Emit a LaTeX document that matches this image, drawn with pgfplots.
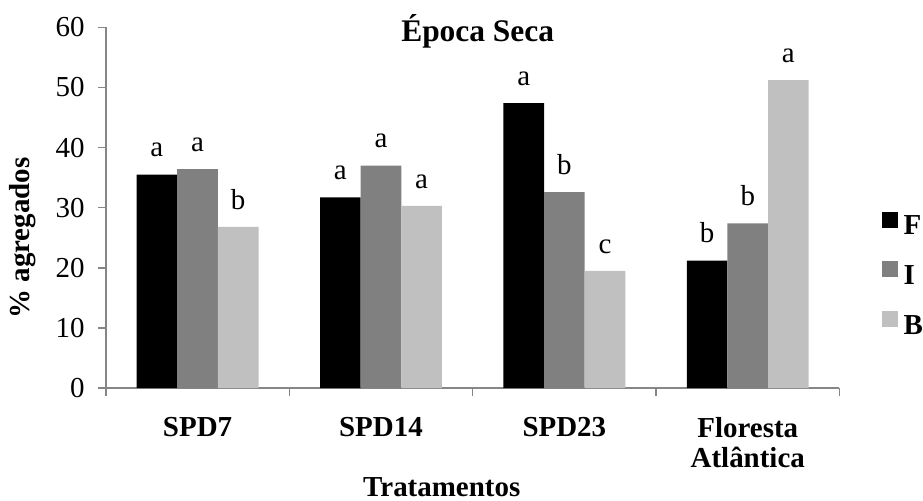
\documentclass[border=0pt]{standalone}
\usepackage{fontspec}
\setmainfont{Liberation Serif}
\usepackage{pgfplots}
\usepackage{pgfplotstable}
\pgfplotsset{compat=1.18}
\definecolor{cF}{RGB}{0,0,0}
\definecolor{cI}{RGB}{128,128,128}
\definecolor{cB}{RGB}{192,192,192}
\definecolor{axgray}{RGB}{134,134,134}
\newcommand\fs{\fontsize{14.5}{15}\selectfont}

\pgfplotstableread{
x F I B lF lI lB
0 35.5 36.4 26.8 a a b
1 31.7 37.0 30.3 a a a
2 47.4 32.6 19.5 a b c
3 21.2 27.4 51.2 b b a
}\data

\begin{document}
\fs
\begin{tikzpicture}
\begin{axis}[
  scale only axis, width=367.35pt, height=180.7pt,
  xmin=-0.5, xmax=3.5, ymin=0, ymax=60,
  ybar=0pt, bar width=20.35pt,
  axis x line*=bottom, axis y line*=left,
  axis line style={draw=axgray, line width=0.7pt, -},
  tick style={draw=axgray, line width=0.7pt},
  tick align=outside, major tick length=4pt,
  ytick={0,10,...,60},
  /pgf/number format/assume math mode=true,
  yticklabel style={anchor=east, inner sep=0pt, xshift=-6.5pt, font=\fs},
  xtick={-0.5,0.5,1.5,2.5,3.5},
  xticklabels={},
  extra x ticks={0,1,2,3},
  extra x tick labels={SPD7,SPD14,SPD23,{Floresta\\Atlântica}},
  extra x tick style={major tick length=0pt,
    xticklabel style={anchor=north, align=center, inner sep=0pt, yshift=-14.5pt, font=\fs\bfseries}},
  title={Época Seca},
  every axis title shift=0pt,
  title style={at={(0.5069,0.9593)}, anchor=base, yshift=0pt, inner sep=0pt, font=\fontsize{15.75}{17}\selectfont\bfseries},
  xlabel={Tratamentos},
  xlabel style={at={(0.4579,-0.3000)}, anchor=base, inner sep=0pt, font=\fs\bfseries},
  ylabel={\% agregados},
  ylabel style={at={(-0.1136,0.4161)}, anchor=center, inner sep=0pt, font=\fs\bfseries},
  nodes near coords,
  point meta=explicit symbolic,
  nodes near coords style={anchor=south, inner sep=0pt, yshift=8.5pt, text=black, font=\fs},
  legend image code/.code={\fill[#1,draw=none] (0pt,0pt) rectangle (8pt,8pt);},
  legend style={draw=none, fill=none, at={(1.0576,0.489)}, anchor=north west,
    inner sep=0pt, outer sep=0pt, row sep=11pt, font=\fs\bfseries,
    nodes={inner sep=0pt},
    /tikz/every odd column/.append style={column sep=3pt}},
  legend cell align=left,
  clip=false,
]
\addplot[fill=cF, draw=none] table[x=x, y=F, meta=lF] {\data};
\addplot[fill=cI, draw=none] table[x=x, y=I, meta=lI] {\data};
\addplot[fill=cB, draw=none] table[x=x, y=B, meta=lB] {\data};
\legend{F,I,B}
\path (rel axis cs:-0.1443,-0.3107) rectangle (rel axis cs:1.1121,1.0755);
\end{axis}
\end{tikzpicture}
\end{document}
